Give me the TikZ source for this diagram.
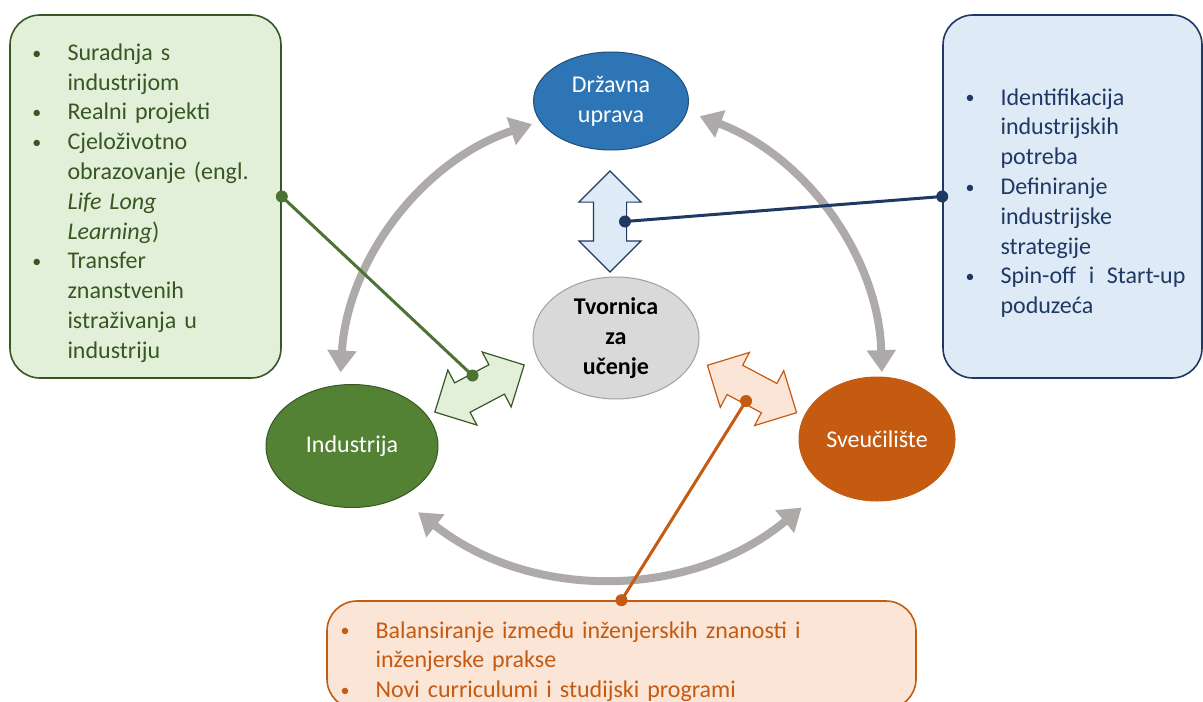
\documentclass[tikz,border=0pt]{standalone}
\usepackage{fontspec}
\setmainfont{Carlito}
\usetikzlibrary{shapes.geometric,shapes.arrows,arrows.meta,calc}
\definecolor{govblue}{HTML}{2E75B6}
\definecolor{govline}{HTML}{1F4E79}
\definecolor{navy}{HTML}{1F3864}
\definecolor{paleblue}{HTML}{DEEBF7}
\definecolor{indgreen}{HTML}{548235}
\definecolor{darkgreen}{HTML}{385723}
\definecolor{palegreen}{HTML}{E2F0D9}
\definecolor{linkgreen}{HTML}{4E7236}
\definecolor{uniorange}{HTML}{C55A11}
\definecolor{paleorange}{HTML}{FBE5D6}
\definecolor{tvgray}{HTML}{D9D9D9}
\definecolor{tvline}{HTML}{A0A0A0}
\definecolor{ringgray}{HTML}{AEAAAA}
\newcommand{\litem}[1]{\par\hangindent=17.5pt\hangafter=1\noindent\hbox to 17.5pt{\raisebox{0.6pt}{\fontsize{9}{9}\selectfont\textbullet}\hfil}#1\par}
\begin{document}
\begin{tikzpicture}[x=0.5pt,y=-0.5pt,
  box/.style={rectangle,rounded corners=15pt,line width=0.8pt,inner sep=0pt,font=\fontsize{12}{14.9}\selectfont},
  ell/.style={ellipse,inner sep=0pt,line width=0.5pt,align=center,font=\fontsize{12}{14.9}\selectfont},
  dbl/.style={double arrow,double arrow tip angle=90,double arrow head extend=7.25pt,minimum width=0pt,minimum height=50.5pt,inner xsep=0pt,inner ysep=8pt,line width=0.6pt},
  ring/.style={draw=ringgray,line width=4pt,{Triangle[length=11pt,width=14pt]}-{Triangle[length=11pt,width=14pt]}},
  link/.style={line width=1.5pt}]
\path[use as bounding box,fill=white] (0,0) rectangle (1203,701);
\coordinate (lc) at (620,390);
\coordinate (rc) at (600,380);
\coordinate (bc) at (607,274);
\draw[ring] ($(lc)+(183.6:280)$) arc[start angle=183.6,end angle=251.7,radius=280];
\draw[ring] ($(rc)+(290.7:282)$) arc[start angle=290.7,end angle=358.4,radius=282];
\draw[ring] ($(bc)+(128.4:304)$) arc[start angle=128.4,end angle=50.2,radius=304];
\node[ell,fill=govblue,draw=govline,text=white,minimum width=77.5pt,minimum height=49pt] (gov) at (611,101) {Državna\\uprava};
\node[ell,fill=tvgray,draw=tvline,minimum width=83pt,minimum height=61pt,font=\fontsize{12}{14.9}\selectfont\bfseries] (tvor) at (616,338) {Tvornica\\za\\učenje};
\node[ell,fill=indgreen,draw=darkgreen,text=white,minimum width=86pt,minimum height=61.5pt] (ind) at (352,446) {Industrija};
\node[ell,fill=uniorange,draw=uniorange,text=white,minimum width=78pt,minimum height=62pt] (uni) at (877,439) {Sveučilište};
\node[dbl,rotate=90,fill=paleblue,draw=navy] (barr) at (610,221.5) {};
\node[dbl,rotate=27.8,fill=palegreen,draw=darkgreen] (garr) at (479.5,388.5) {};
\node[dbl,rotate=-28,fill=paleorange,draw=uniorange] (oarr) at (752,389) {};
\node[box,fill=palegreen,draw=darkgreen,text=darkgreen,minimum width=135.5pt,minimum height=181.5pt,text width=113pt] (gbox) at (145.5,196.5) {\raggedright
\litem{Suradnja s\newline industrijom}
\litem{Realni projekti}
\litem{Cjeloživotno\newline obrazovanje (engl.\newline \textit{Life Long}\newline \textit{Learning})}
\litem{Transfer\newline znanstvenih\newline istraživanja u\newline industriju}};
\node[box,fill=paleblue,draw=navy,text=navy,minimum width=129.5pt,minimum height=181.5pt,text width=113pt] (bbox) at (1072.5,196.5) {\raggedright\leftskip=3pt
\litem{Identifikacija\newline industrijskih\newline potreba}
\litem{Definiranje\newline industrijske\newline strategije}
\litem{\hbox to 92.5pt{Spin-off\hfil i\hfil Start-up}\newline poduzeća}};
\node[box,fill=paleorange,draw=uniorange,text=uniorange,minimum width=294.5pt,minimum height=54pt,text width=281pt] (obox) at (621.5,655) {\raggedright
\litem{Balansiranje između inženjerskih znanosti i\newline inženjerske prakse}
\litem{Novi curriculumi i studijski programi}};
\coordinate (bdot) at ($(barr.center)+(15,0)$);
\coordinate (gdot) at ($(garr.center)+(-7,-13)$);
\coordinate (odot) at ($(oarr.center)+(-6,12)$);
\draw[link,navy] (bbox.west) -- (bdot);
\fill[navy] (bbox.west) circle (3pt) (bdot) circle (3pt);
\draw[link,linkgreen] (gbox.east) -- (gdot);
\fill[linkgreen] (gbox.east) circle (3pt) (gdot) circle (3pt);
\draw[link,uniorange] (obox.north) -- (odot);
\fill[uniorange] (obox.north) circle (3pt) (odot) circle (3pt);
\end{tikzpicture}
\end{document}
